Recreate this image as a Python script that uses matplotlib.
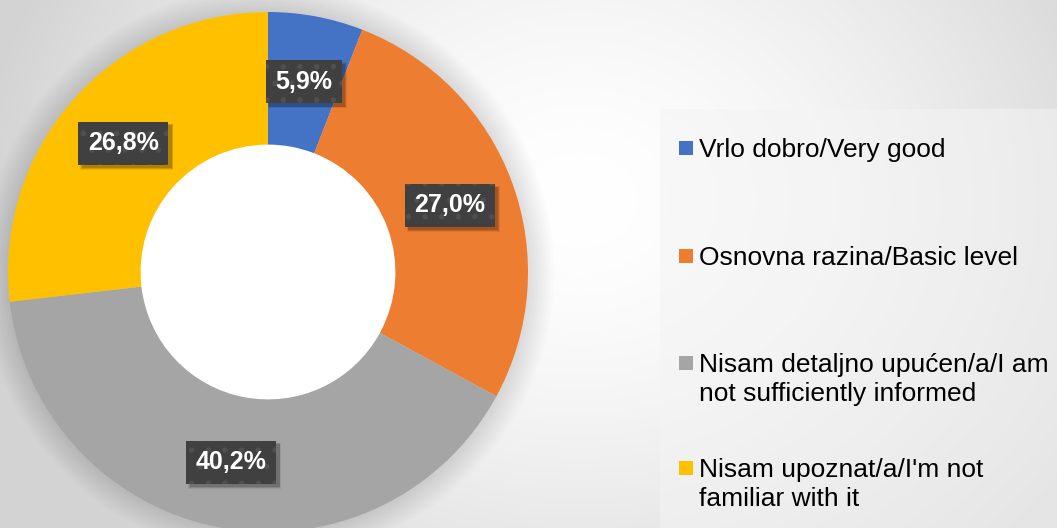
import matplotlib
matplotlib.use("Agg")
from matplotlib import pyplot as plt
from matplotlib.patches import Rectangle, Circle
from matplotlib.transforms import IdentityTransform
import numpy as np

plt.rcParams["font.family"] = "Liberation Sans"
plt.rcParams["hatch.linewidth"] = 1.6

labels = ['Vrlo dobro/Very good',
          'Osnovna razina/Basic level',
          'Nisam detaljno upućen/a/I am\nnot sufficiently informed',
          "Nisam upoznat/a/I'm not\nfamiliar with it"]
values = [5.9, 27.0, 40.2, 26.8]
colors = ['#4472C4', '#ED7D31', '#A5A5A5', '#FFC000']

W, H = 1057, 528
fig = plt.figure(figsize=(W / 100, H / 100), dpi=100)

# background: soft radial gradient, white in the middle, grey at the corners
bg = fig.add_axes([0, 0, 1, 1], zorder=-10)
yy, xx = np.mgrid[0:H, 0:W]
d = np.hypot(xx - 580, (yy - 200) * 1.2)
g = 1 - 0.17 * np.clip(d / 600, 0, 1) ** 1.6
bg.imshow(np.dstack([g, g, g]), extent=(0, W, H, 0), aspect='auto')
bg.add_patch(Rectangle((660, 109), W - 660, H - 109, facecolor='#f4f4f4',
                       alpha=0.55, edgecolor='none'))
bg.set_xlim(0, W)
bg.set_ylim(H, 0)
bg.axis('off')

# donut
cx, cy, r = 268, 272, 260
ax = fig.add_axes([(cx - r) / W, (H - cy - r) / H, 2 * r / W, 2 * r / H])

# soft shadow round the ring
for i in range(10):
    ax.add_patch(Circle((0, 0), 1.0 + 0.01 * (i + 1), facecolor='#000000',
                        alpha=0.013, edgecolor='none', zorder=0, clip_on=False))

wedges, _, pcts = ax.pie(values, colors=colors, startangle=90, counterclock=False,
                         radius=1.0, pctdistance=0.745,
                         autopct=lambda p: f'{p:.1f}'.replace('.', ',') + '%',
                         wedgeprops=dict(width=0.51, linewidth=0, zorder=1))

# white hole
ax.add_patch(Circle((0, 0), 0.495, facecolor='white', edgecolor='none', zorder=0.7))
for w in wedges:
    w.set_clip_on(False)

for t in pcts:
    t.set_color('white')
    t.set_fontsize(18)
    t.set_fontweight('bold')
    t.set_zorder(5)
    t.set_bbox(dict(boxstyle='square,pad=0.38', facecolor='#404040',
                    edgecolor='#4f4f4f', linewidth=0, hatch='.'))

ax.set_xlim(-1, 1)
ax.set_ylim(-1, 1)
ax.set_aspect('equal')
ax.axis('off')

# soft drop shadows under the label boxes (pixel coordinates)
fig.canvas.draw()
for t in pcts:
    bb = t.get_bbox_patch().get_window_extent()
    for k, a in [(5, 0.08), (3.5, 0.12), (2, 0.15)]:
        ax.add_patch(Rectangle((bb.x0 + 3.5 - (k - 2) / 2, bb.y0 - 3.5 - (k - 2) / 2),
                               bb.width + (k - 2), bb.height + (k - 2),
                               transform=IdentityTransform(), facecolor='black',
                               alpha=a, edgecolor='none', zorder=4, clip_on=False))

# legend, drawn by hand to keep the wide spacing of the original
first_line_y = [148, 256, 363, 468]
line_step = 29
for lab, col, y0 in zip(labels, colors, first_line_y):
    fig.add_artist(Rectangle((679 / W, (H - y0 - 7) / H), 14 / W, 14 / H,
                             transform=fig.transFigure, facecolor=col,
                             edgecolor='none'))
    for j, line in enumerate(lab.split('\n')):
        fig.text(699 / W, (H - (y0 + j * line_step) - 9) / H, line,
                 fontsize=19, color='black', va='baseline', ha='left')

fig.savefig('out.png', dpi=100)
